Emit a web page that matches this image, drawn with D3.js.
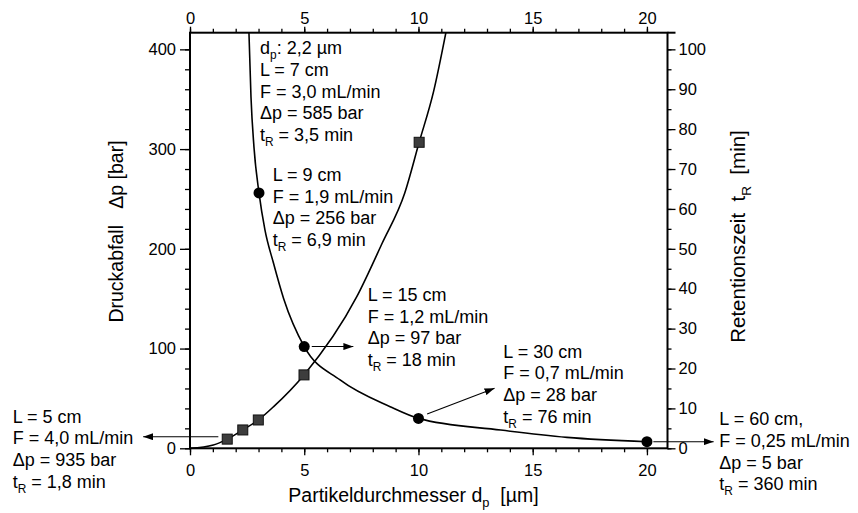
<html>
<script src='https://d3js.org/d3.v7.min.js'></script>
<style>
 body {margin:0; background:#fff;}
 text {font-family: "Liberation Sans", Arial, sans-serif; fill:#000;}
 .axis line {stroke:#000; stroke-width:1.3;}
 .axis path {display:none;}
</style>
<body>
<svg width=858 height=513></svg>
<script>
// pressure drop curve (left axis, bar) against particle diameter (µm)
var dpCurveX = [2.58, 2.67, 2.80, 3.02, 3.28, 3.65, 4.1, 5.0, 6.57, 8.76, 10.0, 13.6, 16.5, 20.0];
var dpCurveY = [417, 352, 302, 256, 219, 186, 150, 102, 68.5, 41.7, 30, 18.3, 11, 6.6];
var dpPointX = [3.02, 5, 10, 20];
var dpPointY = [256, 102, 30, 6.6];

// retention time curve (right axis, min)
var trCurveX = [0, 1.02, 1.63, 2.31, 2.99, 3.65, 4.99, 7.3, 8.41, 9.4, 10.03, 10.66, 11.2];
var trCurveY = [0, 0.83, 2.3, 4.6, 7.1, 10.4, 18.4, 38, 51.4, 64, 76.7, 89.4, 104.2];
var trPointX = [1.63, 2.31, 2.99, 4.99, 10.03];
var trPointY = [2.3, 4.6, 7.1, 18.4, 76.7];

var xTicks = [0, 5, 10, 15, 20];
var leftTicks = [0, 100, 200, 300, 400];
var rightTicks = [0, 10, 20, 30, 40, 50, 60, 70, 80, 90, 100];

var noteTop = ["d_p: 2,2 µm", "L = 7 cm", "F = 3,0 mL/min", "Δp = 585 bar", "t_R = 3,5 min"];
var note9 = ["L = 9 cm", "F = 1,9 mL/min", "Δp = 256 bar", "t_R = 6,9 min"];
var note15 = ["L = 15 cm", "F = 1,2 mL/min", "Δp = 97 bar", "t_R = 18 min"];
var note30 = ["L = 30 cm", "F = 0,7 mL/min", "Δp = 28 bar", "t_R = 76 min"];
var note60 = ["L = 60 cm,", "F = 0,25 mL/min", "Δp = 5 bar", "t_R = 360 min"];
var note5 = ["L = 5 cm", "F = 4,0 mL/min", "Δp = 935 bar", "t_R = 1,8 min"];

var svg = d3.select("svg");
var L = 190, R = 667.5, T = 32.7, B = 448.3;

var x = d3.scaleLinear().domain([0, 20.9]).range([L, R]);
var yL = d3.scaleLinear().domain([0, 416.7]).range([B, T]);
var yR = d3.scaleLinear().domain([0, 104.17]).range([B, T]);

svg.append("defs").append("clipPath").attr("id", "plot")
  .append("rect").attr("x", L).attr("y", T).attr("width", R - L).attr("height", B - T);
svg.select("defs").append("marker").attr("id", "head")
  .attr("markerUnits", "userSpaceOnUse").attr("markerWidth", 10).attr("markerHeight", 7)
  .attr("refX", 10).attr("refY", 3.5).attr("orient", "auto")
  .append("path").attr("d", "M0,0L10,3.5L0,7z").attr("fill", "#000");

// axes
function ax(a, tx, ty) {
  return svg.append("g").attr("class", "axis").attr("transform", "translate(" + tx + "," + ty + ")")
    .call(a).style("font-size", "16.5px").style("font-family", null);
}
ax(d3.axisTop(x).tickValues(d3.range(0, 21)).tickSize(4).tickFormat(""), 0, T);
ax(d3.axisTop(x).tickValues(xTicks).tickSize(6).tickPadding(3), 0, T);
ax(d3.axisBottom(x).tickValues(d3.range(0, 21)).tickSize(4).tickFormat(""), 0, B);
ax(d3.axisBottom(x).tickValues(xTicks).tickSize(7).tickPadding(9), 0, B);
ax(d3.axisLeft(yL).tickValues(d3.range(0, 420, 20)).tickSize(5).tickFormat(""), L, 0);
ax(d3.axisLeft(yL).tickValues(leftTicks).tickSize(10).tickPadding(4), L, 0);
ax(d3.axisRight(yR).tickValues(d3.range(0, 105, 5)).tickSize(4).tickFormat(""), R, 0);
ax(d3.axisRight(yR).tickValues(rightTicks).tickSize(8).tickPadding(3), R, 0);
svg.selectAll(".axis text").attr("fill", "#000");

// frame
svg.append("rect").attr("x", L).attr("y", T).attr("width", R - L).attr("height", B - T)
  .attr("fill", "none").attr("stroke", "#000").attr("stroke-width", 2);
svg.append("line").attr("x1", R).attr("x2", R + 8).attr("y1", T).attr("y2", T)
  .attr("stroke", "#000").attr("stroke-width", 2);

// curves
var plot = svg.append("g").attr("clip-path", "url(#plot)");
var dpLine = d3.line().x(function (d) { return x(d[0]); }).y(function (d) { return yL(d[1]); }).curve(d3.curveMonotoneX);
var trLine = d3.line().x(function (d) { return x(d[0]); }).y(function (d) { return yR(d[1]); }).curve(d3.curveMonotoneX);
plot.append("path").datum(d3.zip(dpCurveX, dpCurveY)).attr("d", dpLine)
  .attr("fill", "none").attr("stroke", "#000").attr("stroke-width", 1.6);
plot.append("path").datum(d3.zip(trCurveX, trCurveY)).attr("d", trLine)
  .attr("fill", "none").attr("stroke", "#000").attr("stroke-width", 1.6);

// markers
svg.selectAll(".sq").data(d3.zip(trPointX, trPointY)).enter().append("rect")
  .attr("x", function (d) { return x(d[0]) - 5; })
  .attr("y", function (d) { return yR(d[1]) - 5; })
  .attr("width", 10).attr("height", 10)
  .attr("fill", "#3d3d3d").attr("stroke", "#111").attr("stroke-width", 1);
svg.selectAll(".dot").data(d3.zip(dpPointX, dpPointY)).enter().append("circle")
  .attr("cx", function (d) { return x(d[0]); })
  .attr("cy", function (d) { return yL(d[1]); })
  .attr("r", 5.5).attr("fill", "#000");

// arrows (data coordinates, left axis)
var arrows = [[1.24, 11.6, -2.05, 11.6], [5.33, 102, 7.15, 102], [10.38, 34.4, 13.33, 60.2], [20.28, 6.6, 22.92, 6.6]];
arrows.forEach(function (a) {
  svg.append("line").attr("x1", x(a[0])).attr("y1", yL(a[1])).attr("x2", x(a[2])).attr("y2", yL(a[3]))
    .attr("stroke", "#000").attr("stroke-width", 1.1).attr("marker-end", "url(#head)");
});

// text with single-letter subscripts written as _X
function rich(t, s, fs) {
  var parts = s.split(/_(.)/);
  parts.forEach(function (p, i) {
    if (i % 2 === 1) {
      t.append("tspan").attr("dy", fs * 0.28).style("font-size", (fs * 0.66) + "px").text(p);
    } else if (p.length) {
      t.append("tspan").attr("dy", i > 0 ? -fs * 0.28 : 0).text(p);
    }
  });
}
function note(lines, px, py) {
  lines.forEach(function (s, i) {
    var t = svg.append("text").attr("x", px).attr("y", py + i * 21.7).style("font-size", "18px");
    rich(t, s, 18);
  });
}
note(noteTop, 260, 54.3);
note(note9, 272.7, 181);
note(note15, 367.7, 301);
note(note30, 503.3, 357.7);
note(note60, 719.3, 425.3);
note(note5, 12.7, 422.7);

// axis titles
var bt = svg.append("text").attr("x", 288.3).attr("y", 501.7).style("font-size", "19.5px").style("white-space", "pre");
rich(bt, "Partikeldurchmesser d_p  [µm]", 19.5);
var lt = svg.append("text").attr("transform", "translate(123,231.5) rotate(-90)")
  .attr("text-anchor", "middle").style("font-size", "19.5px").style("white-space", "pre");
rich(lt, "Druckabfall   Δp [bar]", 19.5);
var rt = svg.append("text").attr("transform", "translate(745,236.5) rotate(-90)")
  .attr("text-anchor", "middle").style("font-size", "20.5px").style("white-space", "pre");
rich(rt, "Retentionszeit  t_R  [min]", 20.5);
</script>
</body>
</html>
